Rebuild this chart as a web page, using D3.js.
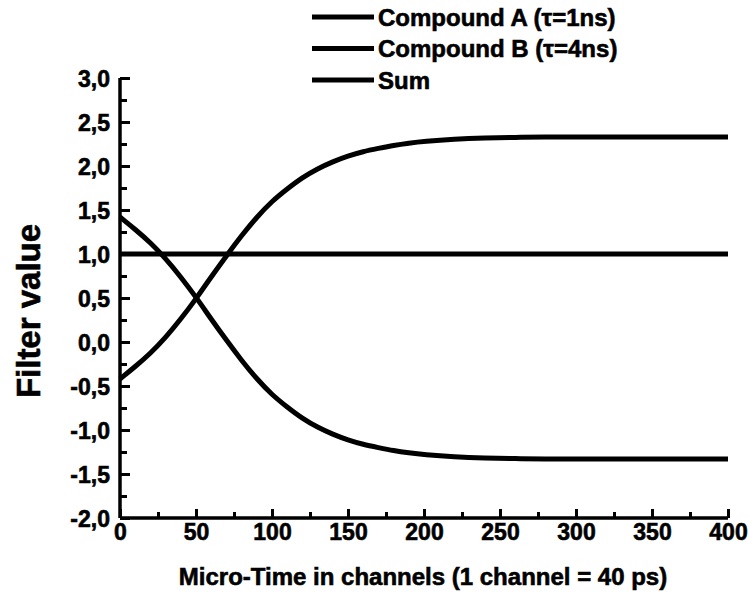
<!DOCTYPE html>
<html>
<head>
<meta charset="utf-8">
<script src="https://cdn.jsdelivr.net/npm/d3@7"></script>
<style>
  body { margin: 0; background: #fff; }
  text { font-family: "Liberation Sans", Arial, sans-serif; font-weight: bold; fill: #000; stroke: #000; stroke-width: 0.6px; }
</style>
</head>
<body>
<svg id="chart" width="750" height="598"></svg>
<script>
const channels = [0, 10, 20, 30, 40, 50, 60, 70, 80, 90, 100, 110, 120, 130, 140, 150, 160, 170, 180, 190, 200, 220, 240, 260, 280, 300, 320, 340, 360, 380, 400];
const compoundA = [-0.42, -0.28, -0.13, 0.05, 0.26, 0.49, 0.74, 0.98, 1.21, 1.42, 1.60, 1.74, 1.87, 1.97, 2.05, 2.115, 2.165, 2.20, 2.235, 2.26, 2.28, 2.305, 2.318, 2.325, 2.33, 2.33, 2.33, 2.33, 2.33, 2.33, 2.33];
const compoundB = [1.42, 1.28, 1.13, 0.95, 0.74, 0.51, 0.26, 0.02, -0.21, -0.42, -0.60, -0.74, -0.87, -0.97, -1.05, -1.115, -1.165, -1.20, -1.235, -1.26, -1.28, -1.305, -1.318, -1.325, -1.33, -1.33, -1.33, -1.33, -1.33, -1.33, -1.33];
const sumValues = [1, 1, 1, 1, 1, 1, 1, 1, 1, 1, 1, 1, 1, 1, 1, 1, 1, 1, 1, 1, 1, 1, 1, 1, 1, 1, 1, 1, 1, 1, 1];

const seriesNames = ["Compound A (\u03c4=1ns)", "Compound B (\u03c4=4ns)", "Sum"];
const xTicks = [0, 50, 100, 150, 200, 250, 300, 350, 400];
const yTicks = [-2, -1.5, -1, -0.5, 0, 0.5, 1, 1.5, 2, 2.5, 3];

const svg = d3.select("#chart");

const x = d3.scaleLinear().domain([0, 400]).range([120, 728]);
const y = d3.scaleLinear().domain([-2, 3]).range([518, 78]);

// comma decimals, plain hyphen for minus
const fmt = d => d3.format(".1f")(d).replace(".", ",").replace("\u2212", "-");

// minor ticks halfway between the major ones
const xMinor = xTicks.slice(1).map((d, i) => (d + xTicks[i]) / 2);
const yMinor = yTicks.slice(1).map((d, i) => (d + yTicks[i]) / 2);

const xAxis = svg.append("g")
  .attr("transform", `translate(0,${y(-2)})`)
  .call(d3.axisBottom(x).tickValues(xTicks).tickSize(-9).tickPadding(6).tickFormat(d3.format("d")));

svg.append("g")
  .attr("transform", `translate(0,${y(-2)})`)
  .call(d3.axisBottom(x).tickValues(xMinor).tickSize(-6).tickFormat(""))
  .select(".domain").remove();

const yAxis = svg.append("g")
  .attr("transform", `translate(${x(0)},0)`)
  .call(d3.axisLeft(y).tickValues(yTicks).tickSize(-10).tickPadding(10).tickFormat(fmt));

svg.append("g")
  .attr("transform", `translate(${x(0)},0)`)
  .call(d3.axisLeft(y).tickValues(yMinor).tickSize(-7).tickFormat(""))
  .select(".domain").remove();

svg.selectAll(".domain").attr("stroke", "#000").attr("stroke-width", 3.5);
svg.selectAll(".tick line").attr("stroke", "#000").attr("stroke-width", 3);
xAxis.selectAll("text").style("font-size", "23px").attr("font-family", null);
yAxis.selectAll("text").style("font-size", "23px").attr("font-family", null).attr("dy", "0.36em");
// drop the outer end caps that d3 draws on the domain path
xAxis.select(".domain").attr("d", `M${x(0)},0H${x(400)}`);
yAxis.select(".domain").attr("d", `M0,${y(3)}V${y(-2)}`);

// curves
const rows = channels.map((c, i) => ({ c, a: compoundA[i], b: compoundB[i], s: sumValues[i] }));

const line = key => d3.line()
  .x(d => x(d.c))
  .y(d => y(d[key]))
  .curve(d3.curveBasis);

["s", "a", "b"].forEach(key => {
  svg.append("path")
    .datum(rows)
    .attr("d", line(key))
    .attr("fill", "none")
    .attr("stroke", "#000")
    .attr("stroke-width", 5);
});

// legend
const legend = svg.append("g");
seriesNames.forEach((name, i) => {
  const ly = 17 + i * 31.5;
  legend.append("line")
    .attr("x1", 312).attr("x2", 374)
    .attr("y1", ly).attr("y2", ly)
    .attr("stroke", "#000").attr("stroke-width", 5);
  legend.append("text")
    .attr("x", 378).attr("y", ly)
    .attr("dy", "0.36em")
    .style("font-size", "24px")
    .text(name);
});

// axis titles
svg.append("text")
  .attr("x", (x(0) + x(400)) / 2 - 1)
  .attr("y", 585)
  .attr("text-anchor", "middle")
  .style("font-size", "24px")
  .text("Micro-Time in channels (1 channel = 40 ps)");

svg.append("text")
  .attr("transform", "translate(40,311) rotate(-90)")
  .attr("text-anchor", "middle")
  .style("font-size", "33px")
  .text("Filter value");
</script>
</body>
</html>
